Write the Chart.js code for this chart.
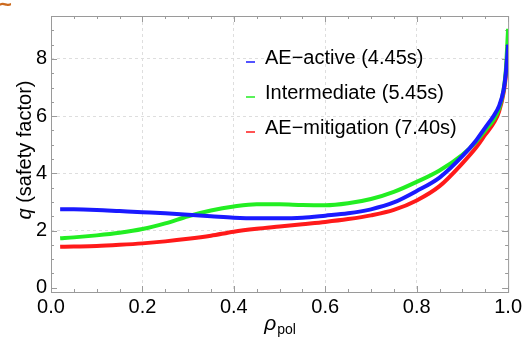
<!DOCTYPE html>
<html>
<head>
<meta charset="utf-8">
<script src="https://cdn.jsdelivr.net/npm/chart.js@4.4.0/dist/chart.umd.min.js"></script>
<style>
  html, body { margin: 0; padding: 0; background: #fff; }
</style>
</head>
<body>
<canvas id="c" width="525" height="345"></canvas>
<script>
// normalized poloidal flux radius
const rho = [0.02, 0.05, 0.1, 0.15, 0.2, 0.25, 0.3, 0.35, 0.4, 0.45, 0.5, 0.55, 0.6, 0.65,
  0.7, 0.75, 0.8, 0.85, 0.9, 0.93, 0.95, 0.97, 0.98, 0.99, 0.995, 1.0];
// safety factor profiles
const qActive = [2.74, 2.74, 2.72, 2.68, 2.64, 2.6, 2.55, 2.5, 2.45, 2.43, 2.43, 2.45, 2.52, 2.6,
  2.74, 2.98, 3.38, 3.85, 4.6, 5.15, 5.6, 6.05, 6.35, 6.9, 7.5, 8.5];
const qIntermediate = [1.73, 1.76, 1.83, 1.92, 2.05, 2.25, 2.5, 2.7, 2.84, 2.92, 2.92, 2.89, 2.88, 2.95,
  3.1, 3.35, 3.7, 4.1, 4.65, 5.1, 5.5, 5.92, 6.25, 6.9, 7.6, 9.05];
const qMitigation = [1.43, 1.44, 1.46, 1.5, 1.55, 1.62, 1.71, 1.82, 1.96, 2.06, 2.14, 2.22, 2.3, 2.4,
  2.53, 2.72, 3.05, 3.55, 4.35, 4.9, 5.35, 5.8, 6.15, 6.8, 7.4, 8.6];

const seriesLabels = ['AE\u2212active (4.45s)', 'Intermediate (5.45s)', 'AE\u2212mitigation (7.40s)'];
const seriesColors = ['#1a1aff', '#22ee22', '#ff1a1a'];

const xTicks = [0, 0.2, 0.4, 0.6, 0.8, 1.0];
const yTicks = [0, 2, 4, 6, 8];

const FONT = '"Liberation Sans", Arial, sans-serif';

function pts(ys) {
  return ys.map((y, i) => ({ x: rho[i], y: y }));
}

// frame with inward ticks, Mathematica style
const framePlugin = {
  id: 'frame',
  beforeDatasetsDraw(chart) {
    const { ctx, chartArea: a, scales: { x, y } } = chart;
    ctx.save();
    ctx.strokeStyle = '#9a9a9a';
    ctx.lineWidth = 1;
    ctx.strokeRect(a.left + 0.5, a.top + 0.5, a.right - a.left, a.bottom - a.top);
    ctx.beginPath();
    for (let i = 0; i <= 20; i++) {
      const v = i * 0.05;
      const len = i % 4 === 0 ? 6 : 3;
      const px = Math.round(x.getPixelForValue(v)) + 0.5;
      ctx.moveTo(px, a.bottom); ctx.lineTo(px, a.bottom - len);
      ctx.moveTo(px, a.top); ctx.lineTo(px, a.top + len);
    }
    for (let i = 0; i <= 18; i++) {
      const v = i * 0.5;
      const len = i % 4 === 0 ? 6 : 3;
      const py = Math.round(y.getPixelForValue(v)) + 0.5;
      ctx.moveTo(a.left, py); ctx.lineTo(a.left + len, py);
      ctx.moveTo(a.right, py); ctx.lineTo(a.right - len, py);
    }
    ctx.stroke();
    ctx.restore();
  },
  afterDraw(chart) {
    const { ctx } = chart;
    ctx.save();
    ctx.fillStyle = '#000';
    ctx.textBaseline = 'middle';

    // y title: q (safety factor)
    ctx.save();
    ctx.translate(25, 150);
    ctx.rotate(-Math.PI / 2);
    ctx.font = 'italic 20px ' + FONT;
    const wq = ctx.measureText('q').width;
    ctx.font = '20px ' + FONT;
    const wr = ctx.measureText(' (safety factor)').width;
    let sx = -(wq + wr) / 2;
    ctx.textAlign = 'left';
    ctx.font = 'italic 20px ' + FONT;
    ctx.fillText('q', sx, 0);
    ctx.font = '20px ' + FONT;
    ctx.fillText(' (safety factor)', sx + wq, 0);
    ctx.restore();

    // x title: rho_pol
    ctx.textAlign = 'left';
    ctx.font = 'italic 21px ' + FONT;
    const wrho = ctx.measureText('\u03c1').width;
    ctx.font = '14px ' + FONT;
    const wpol = ctx.measureText('pol').width;
    const x0 = 280 - (wrho + wpol + 1) / 2;
    ctx.font = 'italic 21px ' + FONT;
    ctx.fillText('\u03c1', x0, 324);
    ctx.font = '14px ' + FONT;
    ctx.fillText('pol', x0 + wrho + 1, 330);

    // legend
    chart.data.datasets.forEach((ds, i) => {
      const ly = 58 + i * 35;
      ctx.strokeStyle = ds.borderColor;
      ctx.lineWidth = 1.5;
      ctx.beginPath();
      ctx.moveTo(246, ly + 4);
      ctx.lineTo(255, ly + 4);
      ctx.stroke();
      ctx.font = '20px ' + FONT;
      ctx.fillStyle = '#000';
      ctx.fillText(ds.label, 265, ly);
    });

    // stray mark at the top-left corner
    ctx.fillStyle = '#cc6a1e';
    ctx.font = 'bold 22px ' + FONT;
    ctx.fillText('~', -1, 6);
    ctx.restore();
  }
};

new Chart(document.getElementById('c'), {
  type: 'line',
  data: {
    datasets: [
      { label: seriesLabels[0], data: pts(qActive) },
      { label: seriesLabels[1], data: pts(qIntermediate) },
      { label: seriesLabels[2], data: pts(qMitigation) }
    ].map((d, i) => Object.assign(d, {
      borderColor: seriesColors[i],
      backgroundColor: seriesColors[i],
      borderWidth: 4,
      pointRadius: 0,
      fill: false,
      cubicInterpolationMode: 'monotone'
    }))
  },
  options: {
    responsive: false,
    animation: false,
    devicePixelRatio: 1,
    layout: { padding: { top: 8, right: 14, left: 0, bottom: 0 } },
    plugins: {
      legend: { display: false },
      tooltip: { enabled: false }
    },
    scales: {
      x: {
        type: 'linear',
        min: 0,
        max: 1,
        afterBuildTicks: s => { s.ticks = xTicks.map(v => ({ value: v })); },
        afterFit: s => { s.height = 53; },
        ticks: {
          color: '#000',
          font: { family: FONT, size: 20 },
          padding: 3,
          maxRotation: 0,
          autoSkip: false,
          callback: v => v.toFixed(1)
        },
        grid: {
          drawTicks: false,
          color: c => (c.tick && (c.tick.value === 0 || c.tick.value === 1)) ? 'rgba(0,0,0,0)' : '#dedede'
        },
        border: { display: false, dash: [3, 3] }
      },
      y: {
        min: -0.15,
        max: 9.5,
        afterBuildTicks: s => { s.ticks = yTicks.map(v => ({ value: v })); },
        afterFit: s => { s.width = 51; },
        ticks: {
          color: '#000',
          font: { family: FONT, size: 20 },
          padding: 4,
          callback: v => String(v)
        },
        grid: {
          drawTicks: false,
          color: c => (c.tick && c.tick.value === 0) ? 'rgba(0,0,0,0)' : '#dedede'
        },
        border: { display: false, dash: [3, 3] }
      }
    }
  },
  plugins: [framePlugin]
});
</script>
</body>
</html>
